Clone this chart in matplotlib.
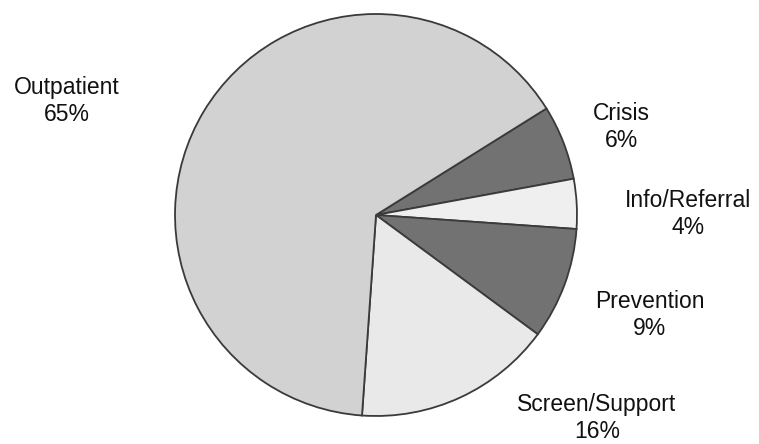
import matplotlib
matplotlib.use('Agg')
import matplotlib.pyplot as plt

plt.rcParams['font.family'] = ['Liberation Sans', 'DejaVu Sans']

# slice data, clockwise from the upper right
categories = ['Crisis', 'Info/Referral', 'Prevention', 'Screen/Support', 'Outpatient']
shares = [6, 4, 9, 16, 65]
colors = ['#727272', '#efefef', '#727272', '#e9e9e9', '#d2d2d2']

# label centres in figure pixels (x from left, y from top)
label_pos = [(621, 127), (688, 214), (650, 315), (597, 418), (67, 101)]

W, H = 759, 444
fig = plt.figure(figsize=(W / 100, H / 100), dpi=100)

cx, cy, r = 376, 215, 203
ax = fig.add_axes([(cx - r) / W, (H - cy - r) / H, 2 * r / W, 2 * r / H])
ax.pie(shares, colors=colors, startangle=32, counterclock=False,
       wedgeprops=dict(edgecolor='#3a3a3a', linewidth=1.3))
ax.set_xlim(-1.01, 1.01)
ax.set_ylim(-1.01, 1.01)
ax.axis('off')

for name, val, (px, py) in zip(categories, shares, label_pos):
    fig.text(px / W, 1 - py / H, f'{name}\n{val}%', ha='center', va='center',
             fontsize=16.5, color='#111111', linespacing=1.2)

fig.savefig('out.png', dpi=100)
